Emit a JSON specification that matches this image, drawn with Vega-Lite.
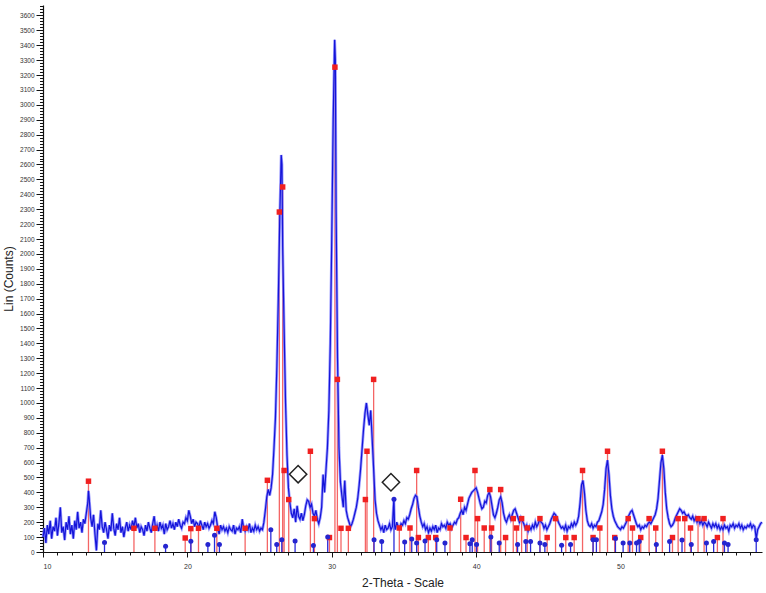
{
"$schema": "https://vega.github.io/schema/vega-lite/v6.json",
"autosize": {"type": "none"},
"padding": {"left": 43, "top": 5, "right": 4, "bottom": 41},
"width": 719,
"height": 547,
"background": "white",
"config": {"view": {"stroke": null}, "axis": {"labelFont": "Liberation Sans", "titleFont": "Liberation Sans", "domainColor": "#111", "tickColor": "#111", "labelColor": "#333", "titleColor": "#222", "grid": false}},
"datasets": {
"line": [
{"x":10.0,"y":100},{"x":10.1,"y":160},{"x":10.2,"y":60},{"x":10.3,"y":180},{"x":10.4,"y":120},{"x":10.5,"y":210},{"x":10.6,"y":90},{"x":10.7,"y":170},{"x":10.8,"y":140},{"x":10.9,"y":230},
{"x":11.0,"y":110},{"x":11.1,"y":190},{"x":11.2,"y":300},{"x":11.3,"y":130},{"x":11.4,"y":170},{"x":11.5,"y":80},{"x":11.6,"y":200},{"x":11.7,"y":150},{"x":11.8,"y":240},{"x":11.9,"y":120},
{"x":12.0,"y":180},{"x":12.1,"y":90},{"x":12.2,"y":210},{"x":12.3,"y":150},{"x":12.4,"y":270},{"x":12.5,"y":160},{"x":12.6,"y":200},{"x":12.7,"y":130},{"x":12.8,"y":220},{"x":12.9,"y":190},
{"x":13.0,"y":260},{"x":13.1,"y":330},{"x":13.15,"y":410},{"x":13.2,"y":360},{"x":13.3,"y":230},{"x":13.4,"y":170},{"x":13.5,"y":250},{"x":13.6,"y":120},{"x":13.7,"y":10},{"x":13.8,"y":190},{"x":13.9,"y":150},
{"x":14.0,"y":280},{"x":14.1,"y":170},{"x":14.2,"y":130},{"x":14.3,"y":200},{"x":14.4,"y":150},{"x":14.5,"y":90},{"x":14.6,"y":180},{"x":14.7,"y":140},{"x":14.8,"y":260},{"x":14.9,"y":160},
{"x":15.0,"y":110},{"x":15.1,"y":190},{"x":15.2,"y":150},{"x":15.3,"y":230},{"x":15.4,"y":130},{"x":15.5,"y":170},{"x":15.6,"y":100},{"x":15.7,"y":160},{"x":15.8,"y":200},{"x":15.9,"y":140},
{"x":16.0,"y":180},{"x":16.1,"y":150},{"x":16.2,"y":210},{"x":16.3,"y":170},{"x":16.4,"y":230},{"x":16.5,"y":160},{"x":16.6,"y":190},{"x":16.7,"y":130},{"x":16.8,"y":170},{"x":16.9,"y":150},
{"x":17.0,"y":110},{"x":17.1,"y":180},{"x":17.2,"y":140},{"x":17.3,"y":200},{"x":17.4,"y":160},{"x":17.5,"y":130},{"x":17.6,"y":190},{"x":17.7,"y":240},{"x":17.8,"y":150},{"x":17.9,"y":180},
{"x":18.0,"y":140},{"x":18.1,"y":200},{"x":18.2,"y":160},{"x":18.3,"y":180},{"x":18.4,"y":120},{"x":18.5,"y":190},{"x":18.6,"y":150},{"x":18.7,"y":170},{"x":18.8,"y":210},{"x":18.9,"y":160},
{"x":19.0,"y":190},{"x":19.1,"y":150},{"x":19.2,"y":200},{"x":19.3,"y":170},{"x":19.4,"y":220},{"x":19.5,"y":180},{"x":19.6,"y":160},{"x":19.7,"y":200},{"x":19.8,"y":190},{"x":19.9,"y":230},
{"x":20.0,"y":210},{"x":20.1,"y":280},{"x":20.2,"y":240},{"x":20.3,"y":190},{"x":20.4,"y":220},{"x":20.5,"y":170},{"x":20.6,"y":200},{"x":20.7,"y":190},{"x":20.8,"y":160},{"x":20.9,"y":210},
{"x":21.0,"y":180},{"x":21.1,"y":150},{"x":21.2,"y":200},{"x":21.3,"y":170},{"x":21.4,"y":190},{"x":21.5,"y":160},{"x":21.6,"y":180},{"x":21.7,"y":210},{"x":21.8,"y":190},{"x":21.9,"y":270},
{"x":22.0,"y":230},{"x":22.1,"y":160},{"x":22.2,"y":120},{"x":22.3,"y":180},{"x":22.4,"y":150},{"x":22.5,"y":170},{"x":22.6,"y":140},{"x":22.7,"y":160},{"x":22.8,"y":130},{"x":22.9,"y":170},
{"x":23.0,"y":150},{"x":23.1,"y":140},{"x":23.2,"y":180},{"x":23.3,"y":120},{"x":23.4,"y":160},{"x":23.5,"y":150},{"x":23.6,"y":170},{"x":23.7,"y":130},{"x":23.8,"y":220},{"x":23.9,"y":160},
{"x":24.0,"y":140},{"x":24.1,"y":170},{"x":24.2,"y":150},{"x":24.3,"y":190},{"x":24.4,"y":130},{"x":24.5,"y":160},{"x":24.6,"y":140},{"x":24.7,"y":180},{"x":24.8,"y":150},{"x":24.9,"y":170},
{"x":25.0,"y":140},{"x":25.1,"y":160},{"x":25.2,"y":150},{"x":25.3,"y":200},{"x":25.4,"y":280},{"x":25.5,"y":370},{"x":25.6,"y":420},{"x":25.7,"y":380},{"x":25.8,"y":430},{"x":25.9,"y":520},
{"x":26.0,"y":700},{"x":26.1,"y":900},{"x":26.2,"y":1250},{"x":26.3,"y":1700},{"x":26.4,"y":2250},{"x":26.5,"y":2664},{"x":26.55,"y":2600},{"x":26.6,"y":2050},{"x":26.7,"y":1500},{"x":26.8,"y":1000},{"x":26.9,"y":650},
{"x":27.0,"y":430},{"x":27.1,"y":330},{"x":27.2,"y":260},{"x":27.3,"y":230},{"x":27.4,"y":290},{"x":27.5,"y":200},{"x":27.6,"y":310},{"x":27.7,"y":240},{"x":27.8,"y":220},{"x":27.9,"y":260},
{"x":28.0,"y":210},{"x":28.1,"y":250},{"x":28.2,"y":310},{"x":28.3,"y":350},{"x":28.4,"y":340},{"x":28.5,"y":300},{"x":28.6,"y":320},{"x":28.7,"y":260},{"x":28.8,"y":240},{"x":28.9,"y":280},
{"x":29.0,"y":220},{"x":29.1,"y":190},{"x":29.2,"y":230},{"x":29.3,"y":300},{"x":29.4,"y":520},{"x":29.5,"y":400},{"x":29.6,"y":550},{"x":29.7,"y":700},{"x":29.8,"y":950},{"x":29.9,"y":1400},
{"x":30.0,"y":2100},{"x":30.1,"y":2900},{"x":30.2,"y":3436},{"x":30.25,"y":3300},{"x":30.3,"y":2300},{"x":30.4,"y":1300},{"x":30.5,"y":700},{"x":30.6,"y":470},{"x":30.7,"y":380},{"x":30.8,"y":300},{"x":30.9,"y":480},
{"x":31.0,"y":280},{"x":31.1,"y":230},{"x":31.2,"y":200},{"x":31.3,"y":170},{"x":31.4,"y":190},{"x":31.5,"y":220},{"x":31.6,"y":260},{"x":31.7,"y":300},{"x":31.8,"y":360},{"x":31.9,"y":450},
{"x":32.0,"y":560},{"x":32.1,"y":690},{"x":32.2,"y":820},{"x":32.3,"y":930},{"x":32.4,"y":1000},{"x":32.5,"y":920},{"x":32.6,"y":850},{"x":32.7,"y":950},{"x":32.8,"y":760},{"x":32.9,"y":560},
{"x":33.0,"y":350},{"x":33.1,"y":260},{"x":33.2,"y":210},{"x":33.3,"y":180},{"x":33.4,"y":150},{"x":33.5,"y":170},{"x":33.6,"y":130},{"x":33.7,"y":180},{"x":33.8,"y":150},{"x":33.9,"y":160},
{"x":34.0,"y":190},{"x":34.1,"y":150},{"x":34.2,"y":170},{"x":34.3,"y":350},{"x":34.35,"y":180},{"x":34.4,"y":150},{"x":34.5,"y":200},{"x":34.6,"y":170},{"x":34.7,"y":160},{"x":34.8,"y":190},{"x":34.9,"y":180},
{"x":35.0,"y":210},{"x":35.1,"y":190},{"x":35.2,"y":230},{"x":35.3,"y":220},{"x":35.4,"y":250},{"x":35.5,"y":290},{"x":35.6,"y":320},{"x":35.7,"y":360},{"x":35.8,"y":380},{"x":35.9,"y":370},
{"x":36.0,"y":300},{"x":36.1,"y":240},{"x":36.2,"y":200},{"x":36.3,"y":170},{"x":36.4,"y":190},{"x":36.5,"y":150},{"x":36.6,"y":170},{"x":36.7,"y":130},{"x":36.8,"y":160},{"x":36.9,"y":140},
{"x":37.0,"y":170},{"x":37.1,"y":150},{"x":37.2,"y":180},{"x":37.3,"y":130},{"x":37.4,"y":160},{"x":37.5,"y":150},{"x":37.6,"y":190},{"x":37.7,"y":170},{"x":37.8,"y":180},{"x":37.9,"y":160},
{"x":38.0,"y":200},{"x":38.1,"y":180},{"x":38.2,"y":190},{"x":38.3,"y":160},{"x":38.4,"y":180},{"x":38.5,"y":200},{"x":38.6,"y":190},{"x":38.7,"y":220},{"x":38.8,"y":230},{"x":38.9,"y":260},
{"x":39.0,"y":280},{"x":39.1,"y":250},{"x":39.2,"y":300},{"x":39.3,"y":280},{"x":39.4,"y":320},{"x":39.5,"y":360},{"x":39.6,"y":380},{"x":39.7,"y":400},{"x":39.8,"y":410},{"x":39.9,"y":420},
{"x":40.0,"y":430},{"x":40.1,"y":400},{"x":40.2,"y":360},{"x":40.3,"y":320},{"x":40.4,"y":290},{"x":40.5,"y":300},{"x":40.6,"y":340},{"x":40.7,"y":330},{"x":40.8,"y":380},{"x":40.9,"y":400},
{"x":41.0,"y":370},{"x":41.1,"y":310},{"x":41.2,"y":250},{"x":41.3,"y":230},{"x":41.4,"y":260},{"x":41.5,"y":300},{"x":41.6,"y":350},{"x":41.7,"y":370},{"x":41.8,"y":330},{"x":41.9,"y":260},
{"x":42.0,"y":220},{"x":42.1,"y":200},{"x":42.2,"y":230},{"x":42.3,"y":250},{"x":42.4,"y":220},{"x":42.5,"y":250},{"x":42.6,"y":280},{"x":42.7,"y":290},{"x":42.8,"y":260},{"x":42.9,"y":230},
{"x":43.0,"y":200},{"x":43.1,"y":230},{"x":43.2,"y":210},{"x":43.3,"y":190},{"x":43.4,"y":160},{"x":43.5,"y":180},{"x":43.6,"y":140},{"x":43.7,"y":170},{"x":43.8,"y":150},{"x":43.9,"y":180},
{"x":44.0,"y":160},{"x":44.1,"y":200},{"x":44.2,"y":170},{"x":44.3,"y":190},{"x":44.4,"y":220},{"x":44.5,"y":200},{"x":44.6,"y":190},{"x":44.7,"y":160},{"x":44.8,"y":180},{"x":44.9,"y":150},
{"x":45.0,"y":170},{"x":45.1,"y":190},{"x":45.2,"y":220},{"x":45.3,"y":240},{"x":45.4,"y":260},{"x":45.5,"y":250},{"x":45.6,"y":230},{"x":45.7,"y":200},{"x":45.8,"y":180},{"x":45.9,"y":160},
{"x":46.0,"y":170},{"x":46.1,"y":150},{"x":46.2,"y":180},{"x":46.3,"y":140},{"x":46.4,"y":170},{"x":46.5,"y":160},{"x":46.6,"y":190},{"x":46.7,"y":170},{"x":46.8,"y":200},{"x":46.9,"y":180},
{"x":47.0,"y":200},{"x":47.1,"y":240},{"x":47.2,"y":330},{"x":47.3,"y":450},{"x":47.4,"y":480},{"x":47.5,"y":400},{"x":47.6,"y":280},{"x":47.7,"y":210},{"x":47.8,"y":180},{"x":47.9,"y":170},
{"x":48.0,"y":190},{"x":48.1,"y":160},{"x":48.2,"y":180},{"x":48.3,"y":170},{"x":48.4,"y":200},{"x":48.5,"y":210},{"x":48.6,"y":240},{"x":48.7,"y":270},{"x":48.8,"y":320},{"x":48.9,"y":420},
{"x":49.0,"y":560},{"x":49.1,"y":616},{"x":49.2,"y":520},{"x":49.3,"y":380},{"x":49.4,"y":290},{"x":49.5,"y":240},{"x":49.6,"y":210},{"x":49.7,"y":190},{"x":49.8,"y":170},{"x":49.9,"y":160},
{"x":50.0,"y":150},{"x":50.1,"y":170},{"x":50.2,"y":160},{"x":50.3,"y":180},{"x":50.4,"y":200},{"x":50.5,"y":230},{"x":50.6,"y":250},{"x":50.7,"y":270},{"x":50.8,"y":280},{"x":50.9,"y":250},
{"x":51.0,"y":220},{"x":51.1,"y":190},{"x":51.2,"y":170},{"x":51.3,"y":180},{"x":51.4,"y":150},{"x":51.5,"y":170},{"x":51.6,"y":160},{"x":51.7,"y":180},{"x":51.8,"y":170},{"x":51.9,"y":190},
{"x":52.0,"y":200},{"x":52.1,"y":190},{"x":52.2,"y":210},{"x":52.3,"y":230},{"x":52.4,"y":250},{"x":52.5,"y":290},{"x":52.6,"y":360},{"x":52.7,"y":480},{"x":52.8,"y":600},{"x":52.9,"y":650},
{"x":53.0,"y":560},{"x":53.1,"y":400},{"x":53.2,"y":290},{"x":53.3,"y":230},{"x":53.4,"y":190},{"x":53.5,"y":170},{"x":53.6,"y":180},{"x":53.7,"y":200},{"x":53.8,"y":230},{"x":53.9,"y":250},
{"x":54.0,"y":270},{"x":54.1,"y":290},{"x":54.2,"y":280},{"x":54.3,"y":260},{"x":54.4,"y":270},{"x":54.5,"y":250},{"x":54.6,"y":240},{"x":54.7,"y":250},{"x":54.8,"y":230},{"x":54.9,"y":220},
{"x":55.0,"y":240},{"x":55.1,"y":210},{"x":55.2,"y":230},{"x":55.3,"y":200},{"x":55.4,"y":220},{"x":55.5,"y":190},{"x":55.6,"y":210},{"x":55.7,"y":180},{"x":55.8,"y":200},{"x":55.9,"y":190},
{"x":56.0,"y":170},{"x":56.1,"y":200},{"x":56.2,"y":180},{"x":56.3,"y":160},{"x":56.4,"y":190},{"x":56.5,"y":170},{"x":56.6,"y":190},{"x":56.7,"y":160},{"x":56.8,"y":180},{"x":56.9,"y":150},
{"x":57.0,"y":170},{"x":57.1,"y":150},{"x":57.2,"y":180},{"x":57.3,"y":160},{"x":57.4,"y":170},{"x":57.5,"y":140},{"x":57.6,"y":180},{"x":57.7,"y":170},{"x":57.8,"y":190},{"x":57.9,"y":160},
{"x":58.0,"y":180},{"x":58.1,"y":170},{"x":58.2,"y":190},{"x":58.3,"y":160},{"x":58.4,"y":180},{"x":58.5,"y":150},{"x":58.6,"y":170},{"x":58.7,"y":160},{"x":58.8,"y":180},{"x":58.9,"y":170},
{"x":59.0,"y":190},{"x":59.1,"y":160},{"x":59.2,"y":180},{"x":59.3,"y":170},{"x":59.4,"y":90},{"x":59.5,"y":150},{"x":59.6,"y":170},{"x":59.7,"y":190},{"x":59.8,"y":200}
],
"red": [
{"x":13.15,"y":475},{"x":16.3,"y":159},{"x":17.75,"y":159},{"x":19.85,"y":94},{"x":20.24,"y":157},{"x":20.77,"y":159},{"x":22.04,"y":159},{"x":24.0,"y":159},{"x":25.54,"y":481},{"x":26.37,"y":2281},
{"x":26.6,"y":2449},{"x":26.7,"y":547},{"x":27.02,"y":352},{"x":28.52,"y":676},{"x":28.8,"y":224},{"x":29.84,"y":97},{"x":30.22,"y":3253},{"x":30.39,"y":1158},{"x":30.64,"y":159},{"x":31.15,"y":159},
{"x":32.33,"y":352},{"x":32.44,"y":676},{"x":32.9,"y":1158},{"x":34.68,"y":161},{"x":35.42,"y":161},{"x":35.88,"y":547},{"x":36.0,"y":97},{"x":36.69,"y":97},{"x":37.2,"y":97},{"x":38.19,"y":161},
{"x":38.93,"y":354},{"x":39.3,"y":97},{"x":39.92,"y":547},{"x":40.1,"y":224},{"x":40.56,"y":161},{"x":40.95,"y":419},{"x":41.07,"y":161},{"x":41.7,"y":419},{"x":42.04,"y":97},{"x":42.57,"y":224},
{"x":42.8,"y":161},{"x":43.15,"y":224},{"x":43.54,"y":161},{"x":44.42,"y":224},{"x":44.92,"y":97},{"x":45.5,"y":224},{"x":46.21,"y":97},{"x":46.79,"y":97},{"x":47.37,"y":547},{"x":48.1,"y":97},
{"x":48.57,"y":161},{"x":49.1,"y":676},{"x":49.6,"y":97},{"x":50.53,"y":224},{"x":50.83,"y":161},{"x":51.4,"y":97},{"x":51.98,"y":224},{"x":52.44,"y":161},{"x":52.9,"y":676},{"x":53.6,"y":97},
{"x":53.99,"y":224},{"x":54.45,"y":224},{"x":54.85,"y":161},{"x":55.37,"y":224},{"x":55.79,"y":224},{"x":56.71,"y":97},{"x":57.1,"y":224}
],
"blue": [
{"x":14.26,"y":63},{"x":18.49,"y":38},{"x":20.24,"y":72},{"x":21.42,"y":51},{"x":21.88,"y":112},{"x":22.22,"y":51},{"x":25.78,"y":150},{"x":26.19,"y":50},{"x":26.54,"y":83},{"x":27.46,"y":74},
{"x":28.73,"y":43},{"x":29.72,"y":101},{"x":32.93,"y":83},{"x":33.46,"y":70},{"x":34.31,"y":354},{"x":35.05,"y":67},{"x":35.54,"y":87},{"x":35.88,"y":60},{"x":36.46,"y":74},{"x":37.27,"y":83},
{"x":37.84,"y":60},{"x":39.57,"y":55},{"x":39.73,"y":83},{"x":40.03,"y":50},{"x":41.02,"y":101},{"x":41.6,"y":60},{"x":42.87,"y":50},{"x":43.44,"y":70},{"x":43.77,"y":70},{"x":44.42,"y":60},
{"x":44.76,"y":50},{"x":45.92,"y":45},{"x":46.54,"y":50},{"x":48.1,"y":83},{"x":48.33,"y":83},{"x":49.65,"y":90},{"x":50.18,"y":60},{"x":50.64,"y":60},{"x":51.11,"y":60},{"x":51.3,"y":70},
{"x":52.48,"y":50},{"x":53.4,"y":70},{"x":54.26,"y":80},{"x":54.9,"y":50},{"x":55.95,"y":60},{"x":56.45,"y":70},{"x":57.2,"y":60},{"x":57.45,"y":50},{"x":59.4,"y":83}
],
"dia": [{"x":27.67,"y":522},{"x":34.1,"y":468}]
},
"resolve": {"axis": {"x": "independent", "y": "independent"}},
"layer": [
{
"data": {"name": "red"},
"mark": {"type": "rule", "color": "#f24a4a", "strokeWidth": 1.3, "opacity": 0.85},
"encoding": {
"x": {"field": "x", "type": "quantitative", "scale": {"domain": [10, 59.8], "nice": false, "zero": false},
"axis": {"orient": "bottom", "values": [10, 20, 30, 40, 50], "title": "2-Theta - Scale", "titleFontSize": 12, "titleFontWeight": "normal", "titlePadding": 8, "labelFontSize": 7, "tickSize": 5, "labelPadding": 5, "domainWidth": 1.2}},
"y": {"field": "y", "type": "quantitative", "scale": {"domain": [0, 3670], "nice": false},
"axis": {"orient": "left", "format": "d", "values": [0,100,200,300,400,500,600,700,800,900,1000,1100,1200,1300,1400,1500,1600,1700,1800,1900,2000,2100,2200,2300,2400,2500,2600,2700,2800,2900,3000,3100,3200,3300,3400,3500,3600], "title": "Lin (Counts)", "titleFontSize": 12, "titleFontWeight": "normal", "titlePadding": 4, "labelFontSize": 6.5, "tickSize": 7, "labelPadding": 2, "domainWidth": 1.2}},
"y2": {"datum": 0}
}
},
{
"data": {"name": "blue"},
"mark": {"type": "rule", "color": "#2b2bd9", "strokeWidth": 1.3},
"encoding": {
"x": {"field": "x", "type": "quantitative", "axis": {"orient": "bottom", "values": [10,11,12,13,14,15,16,17,18,19,20,21,22,23,24,25,26,27,28,29,30,31,32,33,34,35,36,37,38,39,40,41,42,43,44,45,46,47,48,49,50,51,52,53,54,55,56,57,58,59], "labels": false, "title": null, "tickSize": 3, "domain": false}},
"y": {"field": "y", "type": "quantitative", "axis": {"orient": "left", "values": [20,40,60,80,120,140,160,180,220,240,260,280,320,340,360,380,420,440,460,480,520,540,560,580,620,640,660,680,720,740,760,780,820,840,860,880,920,940,960,980,1020,1040,1060,1080,1120,1140,1160,1180,1220,1240,1260,1280,1320,1340,1360,1380,1420,1440,1460,1480,1520,1540,1560,1580,1620,1640,1660,1680,1720,1740,1760,1780,1820,1840,1860,1880,1920,1940,1960,1980,2020,2040,2060,2080,2120,2140,2160,2180,2220,2240,2260,2280,2320,2340,2360,2380,2420,2440,2460,2480,2520,2540,2560,2580,2620,2640,2660,2680,2720,2740,2760,2780,2820,2840,2860,2880,2920,2940,2960,2980,3020,3040,3060,3080,3120,3140,3160,3180,3220,3240,3260,3280,3320,3340,3360,3380,3420,3440,3460,3480,3520,3540,3560,3580,3620,3640,3660], "labels": false, "title": null, "tickSize": 3.5, "domain": false}},
"y2": {"datum": 0}
}
},
{
"data": {"name": "line"},
"mark": {"type": "line", "color": "#7f7fff", "strokeWidth": 2.8, "opacity": 0.8},
"encoding": {
"x": {"field": "x", "type": "quantitative", "axis": null},
"y": {"field": "y", "type": "quantitative", "axis": null}
}
},
{
"data": {"name": "line"},
"mark": {"type": "line", "color": "#1414d8", "strokeWidth": 1.2},
"encoding": {
"x": {"field": "x", "type": "quantitative", "axis": null},
"y": {"field": "y", "type": "quantitative", "axis": null}
}
},
{
"data": {"name": "red"},
"mark": {"type": "point", "shape": "square", "filled": true, "color": "#f02020", "size": 30, "opacity": 1},
"encoding": {
"x": {"field": "x", "type": "quantitative", "axis": null},
"y": {"field": "y", "type": "quantitative", "axis": null}
}
},
{
"data": {"name": "blue"},
"mark": {"type": "point", "shape": "circle", "filled": true, "color": "#2525d0", "size": 25, "opacity": 1},
"encoding": {
"x": {"field": "x", "type": "quantitative", "axis": null},
"y": {"field": "y", "type": "quantitative", "axis": null}
}
},
{
"data": {"name": "dia"},
"mark": {"type": "point", "shape": "diamond", "filled": true, "fill": "white", "stroke": "#222", "strokeWidth": 1.5, "size": 300, "opacity": 1},
"encoding": {
"x": {"field": "x", "type": "quantitative", "axis": null},
"y": {"field": "y", "type": "quantitative", "axis": null}
}
}
]
}
